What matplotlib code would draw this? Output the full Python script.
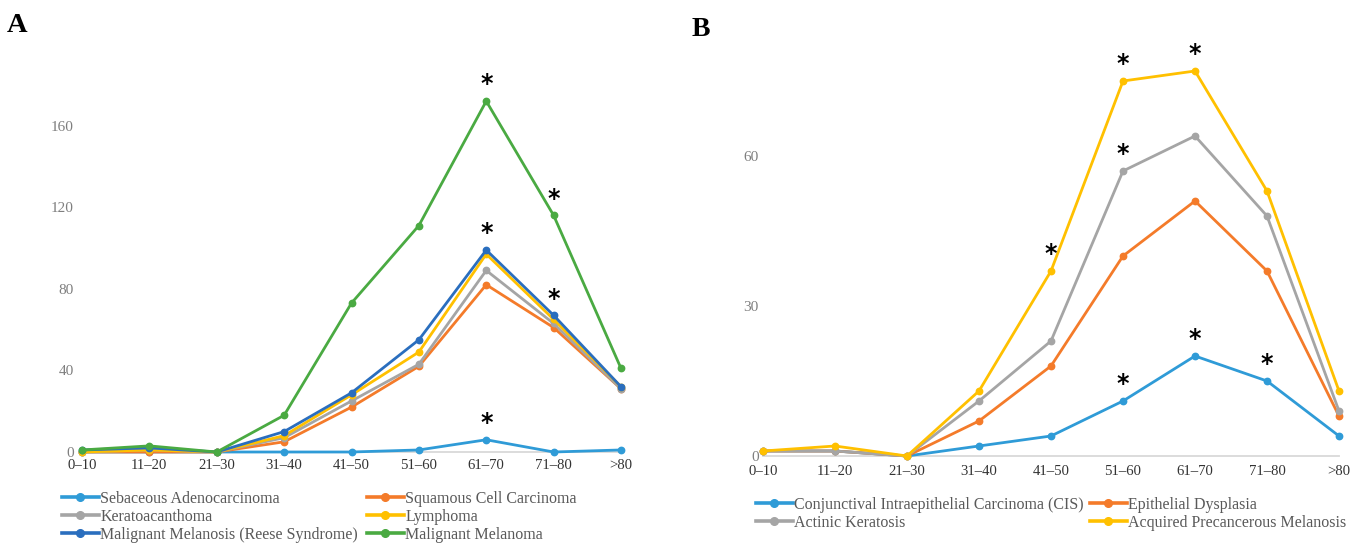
import matplotlib
matplotlib.use("Agg")
import matplotlib.pyplot as plt

# ---------------- data ----------------
age_groups = ["0–10", "11–20", "21–30", "31–40", "41–50", "51–60", "61–70", "71–80", ">80"]

# Panel A: malignant tumours
sebaceous_adenocarcinoma = [0, 0, 0, 0, 0, 1, 6, 0, 1]
squamous_cell_carcinoma = [0, 0, 0, 5, 22, 42, 82, 61, 31]
keratoacanthoma = [0, 1, 0, 7, 25, 43, 89, 63, 31]
lymphoma = [0, 1, 0, 8, 28, 49, 97, 65, 32]
malignant_melanosis = [1, 2, 0, 10, 29, 55, 99, 67, 32]
malignant_melanoma = [1, 3, 0, 18, 73, 111, 172, 116, 41]

# Panel B: premalignant lesions
cis = [1, 1, 0, 2, 4, 11, 20, 15, 4]
epithelial_dysplasia = [1, 1, 0, 7, 18, 40, 51, 37, 8]
actinic_keratosis = [1, 1, 0, 11, 23, 57, 64, 48, 9]
acquired_precancerous_melanosis = [1, 2, 0, 13, 37, 75, 77, 53, 13]

a_yticks = [0, 40, 80, 120, 160]
b_yticks = [0, 30, 60]

# significant points: (series, age-group index)
a_significant = [("Malignant Melanoma", 6), ("Malignant Melanoma", 7),
                 ("Malignant Melanosis (Reese Syndrome)", 6),
                 ("Malignant Melanosis (Reese Syndrome)", 7),
                 ("Sebaceous Adenocarcinoma", 6)]
b_significant = [("Acquired Precancerous Melanosis", 4),
                 ("Acquired Precancerous Melanosis", 5),
                 ("Acquired Precancerous Melanosis", 6),
                 ("Actinic Keratosis", 5),
                 ("Conjunctival Intraepithelial Carcinoma (CIS)", 5),
                 ("Conjunctival Intraepithelial Carcinoma (CIS)", 6),
                 ("Conjunctival Intraepithelial Carcinoma (CIS)", 7)]

LIGHT_BLUE = "#2F9BD7"
ORANGE = "#F47B2A"
GRAY = "#A5A5A5"
YELLOW = "#FFC000"
DARK_BLUE = "#2A6EBE"
GREEN = "#4AAA42"

series_a = [
    ("Sebaceous Adenocarcinoma", sebaceous_adenocarcinoma, LIGHT_BLUE),
    ("Squamous Cell Carcinoma", squamous_cell_carcinoma, ORANGE),
    ("Keratoacanthoma", keratoacanthoma, GRAY),
    ("Lymphoma", lymphoma, YELLOW),
    ("Malignant Melanosis (Reese Syndrome)", malignant_melanosis, DARK_BLUE),
    ("Malignant Melanoma", malignant_melanoma, GREEN),
]
series_b = [
    ("Conjunctival Intraepithelial Carcinoma (CIS)", cis, LIGHT_BLUE),
    ("Epithelial Dysplasia", epithelial_dysplasia, ORANGE),
    ("Actinic Keratosis", actinic_keratosis, GRAY),
    ("Acquired Precancerous Melanosis", acquired_precancerous_melanosis, YELLOW),
]

SERIF = ["Liberation Serif", "DejaVu Serif"]
plt.rcParams["font.family"] = SERIF

W, H = 1360, 544
fig = plt.figure(figsize=(W / 100, H / 100), dpi=100)


def px_axes(x0, x1, y_zero, px_per_unit, ymax):
    """Axes whose x range [0, 8] spans pixels x0..x1 and whose zero sits at y_zero."""
    height = ymax * px_per_unit
    ax = fig.add_axes([x0 / W, (H - y_zero) / H, (x1 - x0) / W, height / H])
    ax.set_xlim(0, len(age_groups) - 1)
    ax.set_ylim(0, ymax)
    return ax


def style_axes(ax, yticks, xpad, ypad):
    for side in ("top", "right", "left"):
        ax.spines[side].set_visible(False)
    ax.spines["bottom"].set_color("#D9D9D9")
    ax.spines["bottom"].set_linewidth(1.3)
    ax.spines["bottom"].set_zorder(1)
    ax.set_xticks(range(len(age_groups)))
    ax.set_xticklabels(age_groups, fontsize=10.6, color="#333333")
    ax.set_yticks(yticks)
    ax.set_yticklabels([str(v) for v in yticks], fontsize=11, color="#7F7F7F")
    ax.tick_params(axis="x", length=0, pad=xpad)
    ax.tick_params(axis="y", length=0, pad=ypad)


def draw_series(ax, series):
    handles = {}
    for name, values, color in series:
        (ln,) = ax.plot(range(len(values)), values, color=color, lw=2.0,
                        marker="o", ms=4.6, clip_on=False, label=name,
                        solid_joinstyle="round", zorder=3)
        handles[name] = ln
    return handles


def mark_significant(ax, series, marks):
    lookup = {name: values for name, values, _ in series}
    for name, idx in marks:
        ax.annotate("*", (idx, lookup[name][idx]), xytext=(0, 7),
                    textcoords="offset points", ha="center", va="baseline",
                    fontsize=17, fontweight="bold", family="DejaVu Sans",
                    color="black", annotation_clip=False)


def column_legend(handles, names, x_px, y_px):
    leg = fig.legend([handles[n] for n in names], names,
                     loc="upper left", bbox_to_anchor=(x_px / W, 1 - y_px / H),
                     frameon=False, fontsize=11.5, handlelength=2.3,
                     handletextpad=0.1, labelspacing=0.12, borderpad=0,
                     borderaxespad=0, labelcolor="#595959")
    for h in leg.legend_handles:
        h.set_linewidth(2.6)
        h.set_markersize(5.5)
    return leg


# ---------------- panel A ----------------
ax_a = px_axes(82, 621, 452, 2.04, 190)
style_axes(ax_a, a_yticks, xpad=5, ypad=6)
h_a = draw_series(ax_a, series_a)
mark_significant(ax_a, series_a, a_significant)
column_legend(h_a, ["Sebaceous Adenocarcinoma", "Keratoacanthoma",
                    "Malignant Melanosis (Reese Syndrome)"], 62, 491)
column_legend(h_a, ["Squamous Cell Carcinoma", "Lymphoma",
                    "Malignant Melanoma"], 367, 491)

# ---------------- panel B ----------------
ax_b = px_axes(763, 1339, 456, 5.0, 85)
style_axes(ax_b, b_yticks, xpad=6.5, ypad=3)
h_b = draw_series(ax_b, series_b)
mark_significant(ax_b, series_b, b_significant)
column_legend(h_b, ["Conjunctival Intraepithelial Carcinoma (CIS)",
                    "Actinic Keratosis"], 756, 497)
column_legend(h_b, ["Epithelial Dysplasia",
                    "Acquired Precancerous Melanosis"], 1090, 497)

# panel letters
fig.text(7 / W, 1 - 32.3 / H, "A", fontsize=20.5, fontweight="bold",
         ha="left", va="baseline", color="black")
fig.text(692 / W, 1 - 36 / H, "B", fontsize=20, fontweight="bold",
         ha="left", va="baseline", color="black")

fig.savefig("out.png", dpi=100, facecolor="white")
